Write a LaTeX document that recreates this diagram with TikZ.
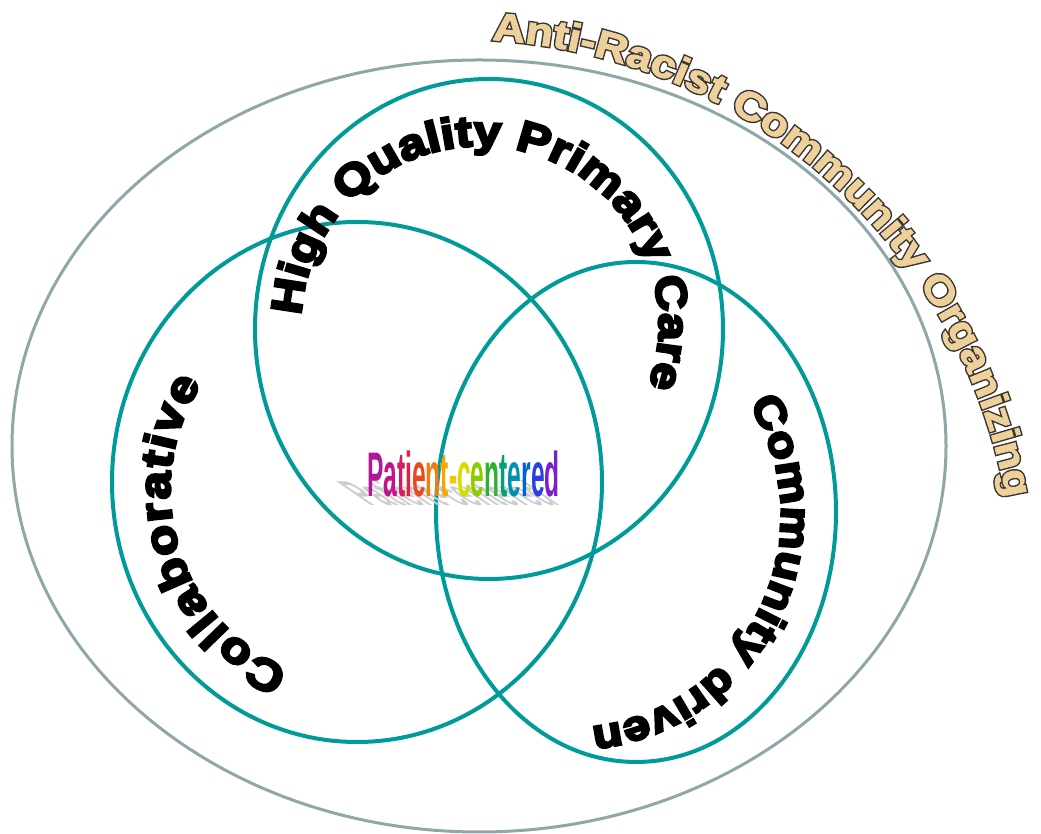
\documentclass[tikz,border=0pt]{standalone}
\usepackage{fontspec}
\usetikzlibrary{decorations.text}
\newfontfamily\hqfont{Liberation Sans Bold}[FakeBold=6,FakeStretch=1.15]
\newfontfamily\arout{Liberation Sans Bold}[FakeBold=10,FakeStretch=1.15]
\newfontfamily\arin{Liberation Sans Bold}[FakeBold=2.5,FakeStretch=1.15]
\newfontfamily\pfont{Liberation Sans Bold}[FakeStretch=0.39]
\definecolor{ringteal}{HTML}{009B98}
\definecolor{outergrey}{HTML}{8FA7A9}
\definecolor{tanfill}{HTML}{EDD09A}
\definecolor{tanline}{HTML}{3A3530}
\definecolor{shadowgrey}{HTML}{CDCDCD}
\definecolor{pcA}{HTML}{B0189C}
\definecolor{pcB}{HTML}{C2138A}
\definecolor{pcC}{HTML}{D81B66}
\definecolor{pcD}{HTML}{E22040}
\definecolor{pcE}{HTML}{EA4820}
\definecolor{pcF}{HTML}{F07E10}
\definecolor{pcG}{HTML}{F5A600}
\definecolor{pcH}{HTML}{F0C800}
\definecolor{pcI}{HTML}{D4DC00}
\definecolor{pcJ}{HTML}{8CCB00}
\definecolor{pcK}{HTML}{30B030}
\definecolor{pcL}{HTML}{00A078}
\definecolor{pcM}{HTML}{0090B4}
\definecolor{pcN}{HTML}{0062D2}
\definecolor{pcO}{HTML}{2A40E0}
\definecolor{pcP}{HTML}{7A20D0}
\newcommand{\rainbowtext}{\textcolor{pcA}{P}\textcolor{pcB}{a}\textcolor{pcC}{t}\textcolor{pcD}{i}\textcolor{pcE}{e}\textcolor{pcF}{n}\textcolor{pcG}{t}\textcolor{pcH}{-}\textcolor{pcI}{c}\textcolor{pcJ}{e}\textcolor{pcK}{n}\textcolor{pcL}{t}\textcolor{pcM}{e}\textcolor{pcN}{r}\textcolor{pcO}{e}\textcolor{pcP}{d}}
\tikzset{
  ring/.style={draw=ringteal, line width=4pt},
  outerline/.style={draw=outergrey, line width=3pt},
  arctext/.style={decorate, decoration={text along path, text align={fit to path}, text={#1}}},
}
\begin{document}
\begin{tikzpicture}[x=1pt,y=1pt]
\useasboundingbox (0,0) rectangle (1041,834);
\fill[white] (0,0) rectangle (1041,834);
% outer ellipse
\draw[outerline] (479,388) ellipse[x radius=467, y radius=386];
% three circles
\draw[ring] (489,505) ellipse[x radius=234, y radius=250];
\draw[ring] (357,352) ellipse[x radius=245, y radius=260];
\draw[ring] (636,322) ellipse[x radius=200, y radius=250];
% centre word with shadow
\begin{scope}[shift={(369,328)}, cm={1,0,-0.8,0.55,(0,0)}]
\node[anchor=base west, inner sep=0, transform shape, text=shadowgrey] (pcshadow) at (0,0) {\pfont\fontsize{63}{70}\selectfont Patient-centered};
\end{scope}
\node[anchor=base west, inner sep=0] (pc) at (367,337) {\pfont\fontsize{63}{70}\selectfont\rainbowtext};
% curved labels
\path[arctext={|\hqfont\fontsize{43}{52}\selectfont|High Quality Primary Care}] (480,509) ++(177:179) arc[start angle=177, end angle=-20, radius=179];
\path[arctext={|\hqfont\fontsize{44}{52}\selectfont|Collaborative}] (365,344) ++(247:195) arc[start angle=247, end angle=147, radius=195];
\path[arctext={|\hqfont\fontsize{42}{52}\selectfont|Community driven}] (569,318) ++(32:212) arc[start angle=32, end angle=-84, radius=212];
\path[arctext={|\arout\fontsize{39}{48}\selectfont\color{tanline}|Anti-Racist Community Organizing}] (458,238) ++(86.5:557) arc[start angle=86.5, end angle=10.5, radius=557];
\path[arctext={|\arin\fontsize{39}{48}\selectfont\color{tanfill}|Anti-Racist Community Organizing}] (458,238) ++(86.5:557) arc[start angle=86.5, end angle=10.5, radius=557];
\end{tikzpicture}
\end{document}
